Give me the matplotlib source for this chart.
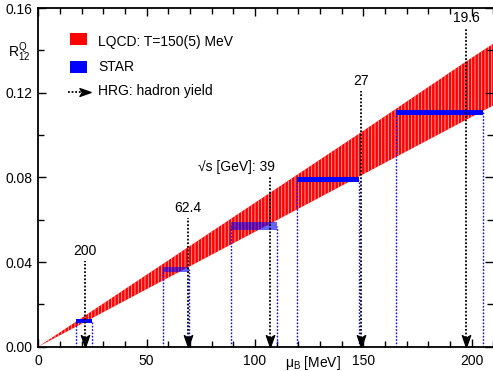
import numpy as np
import matplotlib
matplotlib.use("Agg")
import matplotlib.pyplot as plt
from matplotlib.path import Path
from matplotlib.patches import Rectangle

plt.rcParams['font.family'] = ['Liberation Sans', 'DejaVu Sans']
plt.rcParams['mathtext.fontset'] = 'custom'
plt.rcParams['mathtext.rm'] = 'Liberation Sans'
plt.rcParams['mathtext.it'] = 'Liberation Sans'
plt.rcParams['mathtext.bf'] = 'Liberation Sans:bold'
plt.rcParams['hatch.linewidth'] = 0.6

# ---- data ----
# LQCD band edges (muB in MeV)
band_mu = [0, 50, 100, 150, 200, 215]
band_upper = [0.0, 0.0340, 0.0680, 0.1020, 0.1365, 0.1465]
band_lower = [0.0, 0.0272, 0.0543, 0.0815, 0.1086, 0.1167]

# STAR boxes
star_energy = ["200", "62.4", "39", "27", "19.6"]
star_mu_lo = [17.4, 57.7, 88.9, 119.5, 164.9]
star_mu_hi = [24.9, 69.7, 110.0, 148.1, 205.4]
star_R = [0.0121, 0.0365, 0.0569, 0.0788, 0.1108]
star_dR = [0.0011, 0.0010, 0.0019, 0.0012, 0.0012]
star_alpha = [1.0, 0.6, 0.6, 1.0, 1.0]

# HRG hadron-yield arrows
hrg_mu = [21.6, 68.9, 106.9, 149.0, 197.4]
hrg_top = [0.0403, 0.0609, 0.0804, 0.1206, 0.1505]
hrg_label = ["200", "62.4", "\u221as [GeV]: 39", "27", "19.6"]

W, H = 493, 371
fig = plt.figure(figsize=(W / 100, H / 100), dpi=100)
x0, x1 = 38.3, 493.4
yb, yt = 346.7, 8.0
ax = fig.add_axes([x0 / W, (H - yb) / H, (x1 - x0) / W, (yb - yt) / H])
ax.set_xlim(0, 210)
ax.set_ylim(0, 0.16)

# band
ax.fill_between(band_mu, band_lower, band_upper, facecolor='#ff0000',
                edgecolor=(1, 0.72, 0.72), hatch='|||||', linewidth=0, zorder=1)

# STAR
for lo, hi, r, d, a in zip(star_mu_lo, star_mu_hi, star_R, star_dR, star_alpha):
    ax.bar(lo, 2 * d, width=hi - lo, bottom=r - d, align='edge',
           color='#0000ff', alpha=a, linewidth=0, zorder=3)
    ax.vlines([lo, hi], 0, r, colors='#0000ff', linestyles=(0, (1.2, 1.2)),
              linewidth=1.0, zorder=2)

# arrowhead marker
head = Path([(-0.7, 1.0), (0.0, 0.55), (0.7, 1.0), (0.0, -1.0), (-0.7, 1.0)],
            [Path.MOVETO, Path.LINETO, Path.LINETO, Path.LINETO, Path.CLOSEPOLY])
head_r = Path([(-1.0, 0.7), (-0.55, 0.0), (-1.0, -0.7), (1.0, 0.0), (-1.0, 0.7)],
              [Path.MOVETO, Path.LINETO, Path.LINETO, Path.LINETO, Path.CLOSEPOLY])

for m, t, lab in zip(hrg_mu, hrg_top, hrg_label):
    ax.vlines(m, 0.004, t, colors='black', linestyles=(0, (1.0, 1.0)),
              linewidth=1.3, zorder=4)
    ax.plot([m], [0.0026], marker=head, markersize=8.5, color='black',
            linestyle='none', clip_on=False, zorder=5)
    if lab.startswith('\u221a'):
        ax.annotate(lab, (m, t), xytext=(5, 3), textcoords='offset pixels',
                    ha='right', va='bottom', fontsize=10)
    else:
        ax.annotate(lab, (m, t), xytext=(0, 3), textcoords='offset pixels',
                    ha='center', va='bottom', fontsize=10)

# legend (manual)
ax.add_patch(Rectangle((0.0697, 0.8907), 0.0374, 0.0354, transform=ax.transAxes,
                       facecolor='#ff0000', edgecolor='none'))
ax.add_patch(Rectangle((0.0697, 0.808), 0.0374, 0.0355, transform=ax.transAxes,
                       facecolor='#0000ff', edgecolor='none'))
ax.plot([0.0655, 0.100], [0.7518, 0.7518], transform=ax.transAxes, color='black',
        linestyle=(0, (1.0, 1.0)), linewidth=1.3)
ax.plot([0.103], [0.7518], transform=ax.transAxes, marker=head_r, markersize=8,
        color='black', linestyle='none')
ax.text(0.1313, 0.8996, "LQCD: T=150(5) MeV", transform=ax.transAxes, va='center', fontsize=10)
ax.text(0.1313, 0.8255, "STAR", transform=ax.transAxes, va='center', fontsize=10)
ax.text(0.1313, 0.755, "HRG: hadron yield", transform=ax.transAxes, va='center', fontsize=10)

# axes styling
ax.set_xticks([0, 50, 100, 150, 200])
ax.set_xticks(np.arange(0, 211, 10), minor=True)
ax.set_yticks([0.0, 0.04, 0.08, 0.12, 0.16])
ax.set_yticklabels(["0.00", "0.04", "0.08", "0.12", "0.16"])
ax.set_yticks(np.arange(0, 0.161, 0.02), minor=True)
ax.tick_params(which='both', direction='in', top=True, right=True, labelsize=10,
               width=1.0)
ax.tick_params(which='major', length=5.8, pad=4)
ax.tick_params(which='minor', length=4.0)
ax.tick_params(axis='x', pad=5)
for s in ['left', 'bottom', 'top']:
    ax.spines[s].set_linewidth(1.3)
ax.spines['right'].set_visible(False)

fig.text(285 / W, (H - 366.5) / H, "\u03bc$_{\\rm B}$ [MeV]", ha='left', va='baseline', fontsize=10)
fig.text(8 / W, (H - 52) / H, "R$_{12}^{Q}$", ha='left', va='center', fontsize=10)

fig.savefig("out.png", dpi=100)
